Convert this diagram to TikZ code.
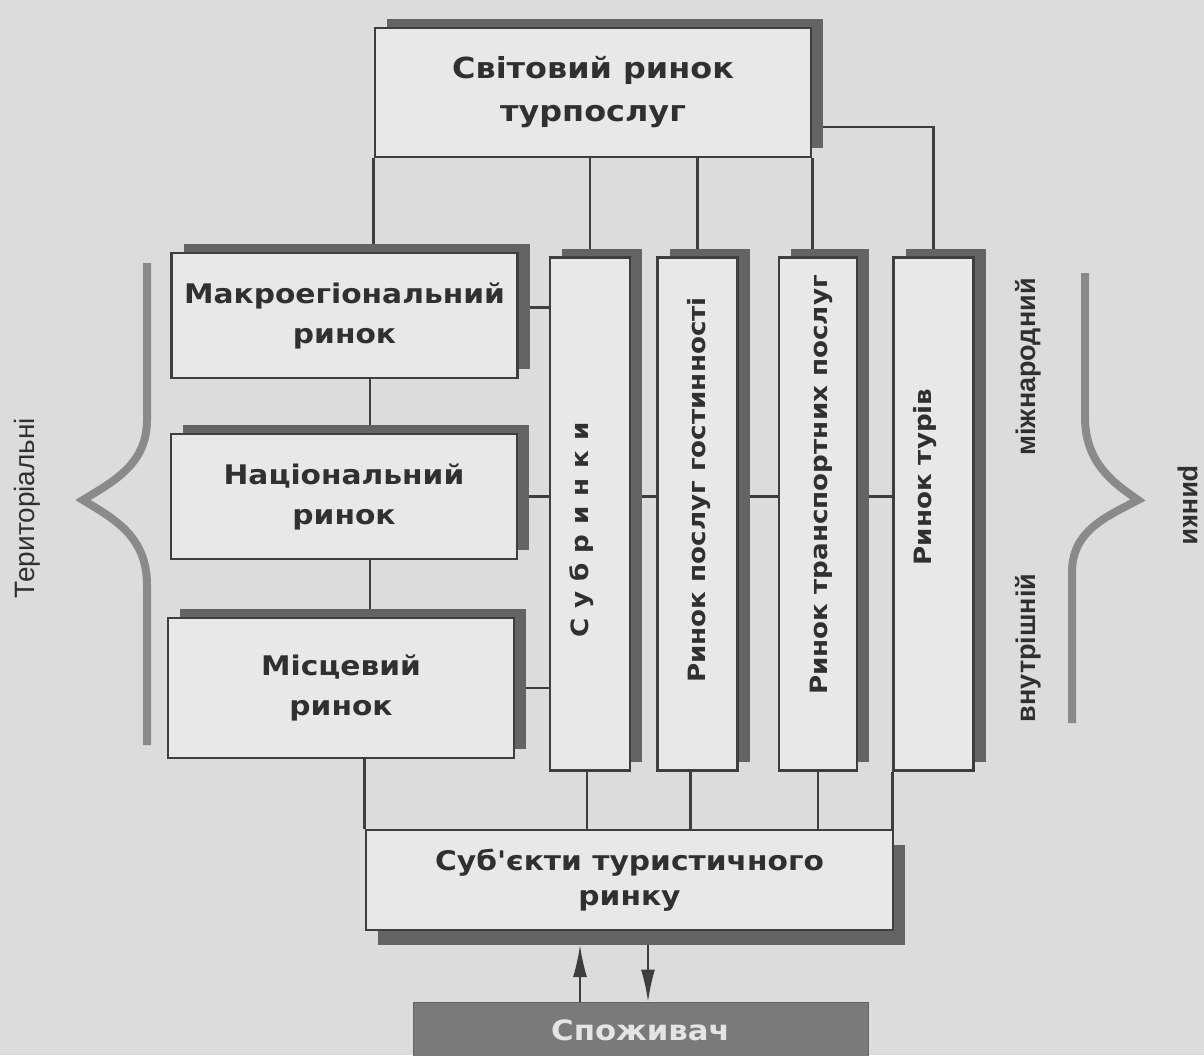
\documentclass[tikz,border=0pt]{standalone}
\usepackage{fontspec}
\usepackage{graphicx}
\setmainfont{DejaVu Sans}
\newfontfamily\boxfont[FakeStretch=1.1]{DejaVu Sans}
\newfontfamily\sidefont{Liberation Sans}
\usetikzlibrary{shadows,backgrounds,arrows.meta}
\definecolor{bgcol}{RGB}{220,220,220}
\definecolor{boxcol}{RGB}{232,232,232}
\definecolor{linecol}{RGB}{62,62,62}
\definecolor{shadcol}{RGB}{100,100,100}
\definecolor{bracecol}{RGB}{138,138,138}
\definecolor{conscol}{RGB}{122,122,122}
\definecolor{constxt}{RGB}{228,228,228}
\definecolor{txtcol}{RGB}{48,48,48}

\begin{document}
\begin{tikzpicture}[x=0.5pt,y=-0.5pt,
    box/.style={draw=linecol, fill=boxcol, line width=1.3pt, inner sep=0pt,
      text=txtcol, font=\boxfont\bfseries\fontsize{13.5}{20}\selectfont, align=center},
    shadowup/.style={general shadow={shadow xshift=6pt, shadow yshift=4.5pt, fill=shadcol}},
    shadowdown/.style={general shadow={shadow xshift=6pt, shadow yshift=-7.5pt, fill=shadcol}},
    hbox/.style={box, shadowup, minimum width=173pt, minimum height=62.5pt},
    vbox/.style={box, shadowup, minimum width=40pt, minimum height=256.5pt},
    vtext/.style={rotate=90, text=txtcol, font=\boxfont\bfseries\fontsize{11.9}{15}\selectfont},
    link/.style={draw=linecol, line width=1.3pt},
    arr/.style={draw=linecol, line width=1pt, -{Latex[length=16pt,width=7pt]}},
    brace/.style={draw=bracecol, line width=4pt},
    side/.style={text=txtcol, font=\sidefont\fontsize{14}{16}\selectfont}]
  \useasboundingbox (0,0) rectangle (1204,1055);

  % world market and territorial markets
  \node[box, shadowup, minimum width=218pt, minimum height=64.5pt,
    font=\boxfont\bfseries\fontsize{14.5}{21.5}\selectfont] (top) at (593,92.5) {Світовий ринок\\турпослуг};
  \node[hbox] (mac) at (344.5,315.5) {Макроегіональний\\ринок};
  \node[hbox] (nat) at (344,496.5) {Національний\\ринок};
  \node[hbox, minimum height=70pt] (loc) at (341,688) {Місцевий\\ринок};

  % submarkets
  \node[vbox] (sub) at (590,514) {};
  \node[vbox] (gost) at (697.5,514) {};
  \node[vbox, minimum width=39pt] (trans) at (818,514) {};
  \node[vbox] (tur) at (933.5,514) {};
  \node[vtext] (sub-t) at (582,530) {\addfontfeature{LetterSpace=42}Субринки};
  \node[vtext] (gost-t) at (699,490) {Ринок послуг гостинності};
  \node[vtext] (trans-t) at (821,485) {Ринок транспортних послуг};
  \node[vtext] (tur-t) at (925,477) {Ринок турів};

  % subjects and consumer
  \node[box, shadowdown, minimum width=263.5pt, minimum height=50pt,
    font=\boxfont\bfseries\fontsize{13.5}{17.5}\selectfont] (subj) at (629.5,880) {Суб'єкти туристичного\\ринку};
  \node[fill=conscol, draw=shadcol, inner sep=0pt, minimum width=227.5pt, minimum height=28pt,
    text=constxt, font=\boxfont\bfseries\fontsize{14}{16}\selectfont] (cons) at (640.5,1030) {Споживач};

  % side labels
  \node[side, rotate=90] (terr) at (27,508) {Територіальні};
  \node[side, rotate=90, font=\sidefont\bfseries\fontsize{13.5}{16}\selectfont] (mizh) at (1028,367) {міжнародний};
  \node[side, rotate=90, font=\sidefont\bfseries\fontsize{13.5}{16}\selectfont] (vnutr) at (1028,648) {внутрішній};
  \node[side, rotate=-90, font=\sidefont\bfseries\fontsize{13.5}{16}\selectfont] (rynky) at (1188,505) {ринки};

  \coordinate (tr) at (811,127);
  \coordinate (lx) at (370,0);
  \coordinate (upc) at (580,945);
  \coordinate (dnc) at (648,945);

  \begin{scope}[on background layer]
    \fill[bgcol] (0,0) rectangle (1204,1055);
    % from the world market
    \draw[link] (top.south west) -- (top.south west |- mac.north);
    \draw[link] (sub.north |- top.south) -- (sub.north);
    \draw[link] (gost.north |- top.south) -- (gost.north);
    \draw[link] (top.south east) -- (top.south east |- trans.north);
    \draw[link] (tr) -| (tur.north);
    % territorial chain
    \draw[link] (lx |- mac.south) -- (lx |- nat.north);
    \draw[link] (lx |- nat.south) -- (lx |- loc.north);
    \draw[link] ([yshift=4pt]mac.east) -- ([yshift=4pt]mac.east -| sub.west);
    \draw[link] (nat.east) -- (nat.east -| sub.west);
    \draw[link] (loc.east) -- (loc.east -| sub.west);
    \draw[link] (sub.east |- nat.east) -- (gost.west |- nat.east);
    \draw[link] (gost.east |- nat.east) -- (trans.west |- nat.east);
    \draw[link] (trans.east |- nat.east) -- (tur.west |- nat.east);
    % down to the subjects
    \draw[link] (subj.north west |- loc.south) -- (subj.north west);
    \draw[link] ([xshift=-1.5pt]sub.south) -- ([xshift=-1.5pt]sub.south |- subj.north);
    \draw[link] ([xshift=-3.5pt]gost.south) -- ([xshift=-3.5pt]gost.south |- subj.north);
    \draw[link] (trans.south) -- (trans.south |- subj.north);
    \draw[link] (tur.south west) -- (tur.south west |- subj.north);
    % consumer
    \draw[arr] (cons.north -| upc) -- (upc);
    \draw[arr] (dnc) -- (dnc |- cons.north);
  \end{scope}

  % braces
  \draw[brace] (147,263) -- (147,420) .. controls (147,465) and (112,482) .. (83,500)
    .. controls (112,518) and (147,535) .. (147,585) -- (147,745);
  \draw[brace] (1085,273) -- (1085,417) .. controls (1085,462) and (1112,482) .. (1138,500)
    .. controls (1108,516) and (1072,530) .. (1072,572) -- (1072,723);
\end{tikzpicture}
\end{document}
